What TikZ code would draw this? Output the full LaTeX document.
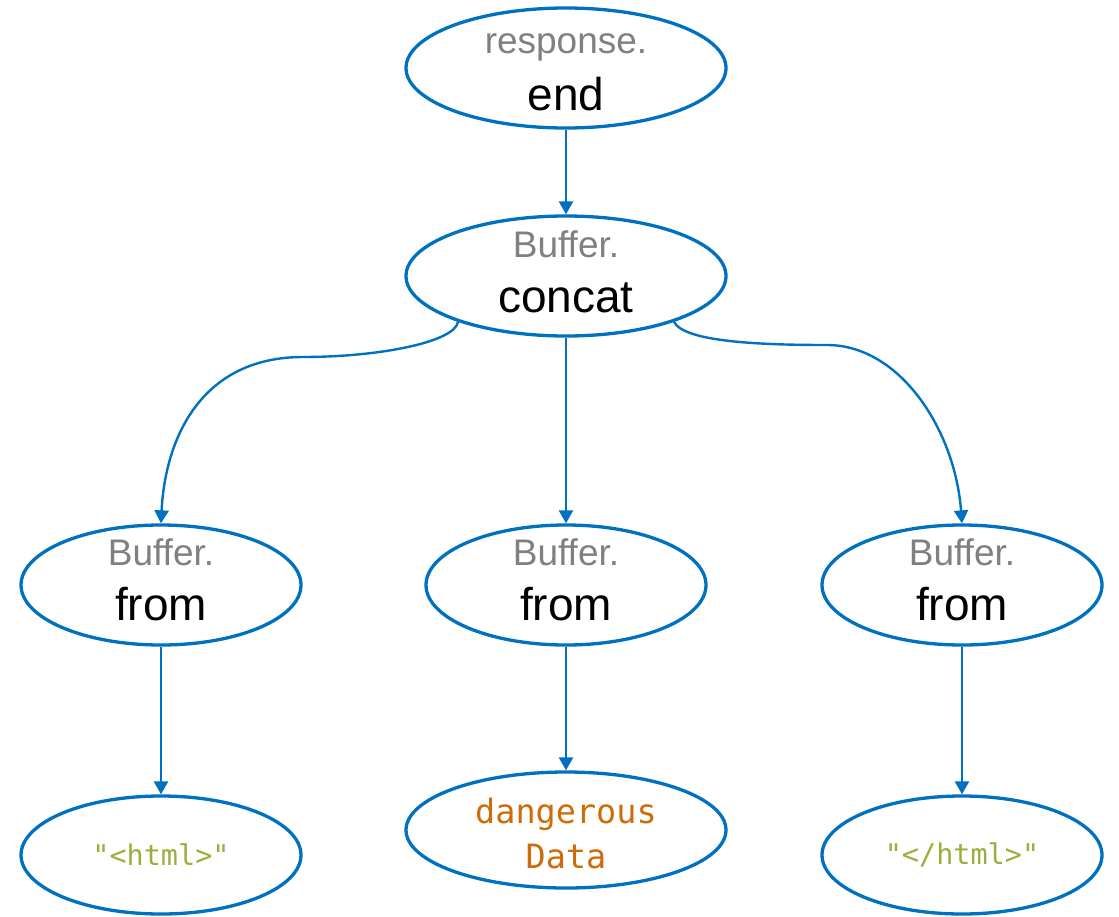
\documentclass[tikz,border=0pt]{standalone}
\usepackage{fontspec}
\setmainfont{Liberation Sans}
\newfontfamily\codefont{DejaVu Sans Mono}
\usetikzlibrary{shapes.geometric,arrows.meta}

\definecolor{edgeblue}{RGB}{0,112,192}
\definecolor{objgray}{RGB}{128,128,128}
\definecolor{strgreen}{RGB}{155,176,60}
\definecolor{taint}{RGB}{206,108,10}

\tikzset{
  call/.style={ellipse, draw=edgeblue, line width=3.3pt, fill=white,
    minimum width=#1, minimum height=120pt, inner sep=0pt},
  call/.default=280pt,
  leaf/.style={ellipse, draw=edgeblue, line width=3.3pt, fill=white,
    minimum width=#1, minimum height=118pt, inner sep=0pt, align=center},
  leaf/.default=280pt,
  flow/.style={draw=edgeblue, line width=2.4pt,
    -{Triangle[length=13pt,width=14pt]}},
  objtxt/.style={anchor=base, inner sep=0pt, text=objgray,
    font=\fontsize{37}{44}\selectfont},
  fntxt/.style={anchor=base, inner sep=0pt, text=black,
    font=\fontsize{46}{55}\selectfont},
  strlit/.style={font=\codefont\fontsize{28.5}{34}\selectfont, text=strgreen},
  tainted/.style={anchor=base, inner sep=0pt, text=taint,
    font=\codefont\fontsize{33.5}{40}\selectfont},
}

\begin{document}
\begin{tikzpicture}[x=1pt,y=-1pt]
  \useasboundingbox (0,0) rectangle (1119,916);

  % call nodes
  \node[call=320pt] (resend) at (566,68)  {};
  \node[call=320pt] (concat) at (566,276) {};
  \node[call] (fromL) at (161,585) {};
  \node[call] (fromM) at (566,585) {};
  \node[call] (fromR) at (962,585) {};

  % receiver and method names
  \node[objtxt] (resend-obj) at (566,53)  {response.};
  \node[fntxt]  (resend-fn)  at (566,110) {end};
  \node[objtxt] (concat-obj) at (566,257) {Buffer.};
  \node[fntxt]  (concat-fn)  at (566,312) {concat};
  \foreach \n/\x in {fromL/161, fromM/566, fromR/962} {
    \node[objtxt] (\n-obj) at (\x,565) {Buffer.};
    \node[fntxt]  (\n-fn)  at (\x,620) {from};
  }

  % argument leaves
  \node[leaf, strlit] (open) at (161,855) {"<html>"};
  \node[leaf=320pt, minimum height=116pt] (data) at (566,830) {};
  \node[tainted] (data-l1) at (566,823) {dangerous};
  \node[tainted] (data-l2) at (566,868) {Data};
  \node[leaf, strlit] (close) at (962,855) {"</html>"};

  % bend points of the side edges
  \coordinate (bendL) at (303,357);
  \coordinate (bendR) at (827,345);

  % edges
  \draw[flow] (resend.south) -- (concat.north);
  \draw[flow] (concat.south) -- (fromM.north);
  \draw[flow] (concat.-157) .. controls +(-3,20) and (380,357) .. (bendL)
              .. controls (200,357) and (165,440) .. (fromL.north);
  \draw[flow] (concat.-23) .. controls +(10,20) and (760,345) .. (bendR)
              .. controls (900,345) and (955,430) .. (fromR.north);
  \draw[flow] (fromL.south) -- (open.north);
  \draw[flow] (fromM.south) -- (data.north);
  \draw[flow] (fromR.south) -- (close.north);
\end{tikzpicture}
\end{document}
